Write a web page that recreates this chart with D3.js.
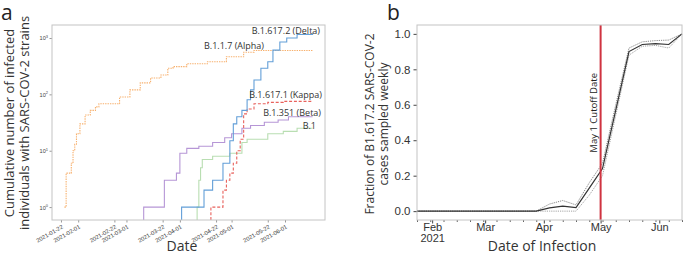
<!DOCTYPE html>
<html lang="en">
<head>
<meta charset="UTF-8" />
<title>SARS-CoV-2 strains</title>
<script src="https://cdn.jsdelivr.net/npm/d3@7"></script>
<style>
  body { margin: 0; background: #fff; }
  svg { font-family: 'Open Sans', sans-serif; }
</style>
</head>
<body>
<div id="chart"></div>
<script>
const parse = d3.timeParse('%Y-%m-%d')

// panel a: cumulative counts per strain, [date, count] (steps)
const alpha = [['2021-01-24', 1], ['2021-01-25', 4], ['2021-01-28', 6], ['2021-01-29', 10], ['2021-01-30', 13],
  ['2021-01-31', 20], ['2021-02-02', 30], ['2021-02-05', 43], ['2021-02-08', 52], ['2021-02-11', 60],
  ['2021-02-13', 68], ['2021-02-25', 90], ['2021-03-03', 120], ['2021-03-09', 160], ['2021-03-15', 195],
  ['2021-03-21', 220], ['2021-03-25', 290], ['2021-03-28', 310], ['2021-04-05', 350], ['2021-04-17', 380],
  ['2021-04-28', 465], ['2021-05-08', 560], ['2021-05-14', 600], ['2021-06-17', 600]]
const delta = [['2021-04-02', 0], ['2021-04-02', 1], ['2021-04-15', 2], ['2021-04-20', 3], ['2021-04-26', 6],
  ['2021-04-30', 15], ['2021-05-02', 30], ['2021-05-04', 40], ['2021-05-07', 52], ['2021-05-10', 80],
  ['2021-05-12', 120], ['2021-05-14', 180], ['2021-05-18', 290], ['2021-05-22', 380], ['2021-05-25', 610],
  ['2021-05-29', 850], ['2021-06-02', 1000], ['2021-06-08', 1150], ['2021-06-17', 1200]]
const kappa = [['2021-04-19', 0], ['2021-04-19', 1], ['2021-04-26', 2], ['2021-04-28', 3], ['2021-04-30', 4],
  ['2021-05-02', 6], ['2021-05-04', 10], ['2021-05-06', 16], ['2021-05-08', 45], ['2021-05-10', 55],
  ['2021-05-14', 68], ['2021-05-22', 72], ['2021-05-31', 75], ['2021-06-17', 75]]
const beta = [['2021-03-11', 0], ['2021-03-11', 1], ['2021-03-23', 3], ['2021-03-30', 4], ['2021-04-01', 9],
  ['2021-04-05', 11], ['2021-04-12', 12], ['2021-04-20', 14], ['2021-04-27', 17], ['2021-05-01', 20],
  ['2021-05-07', 25], ['2021-05-12', 28], ['2021-05-20', 32], ['2021-05-28', 35], ['2021-06-03', 40],
  ['2021-06-17', 40]]
const b1 = [['2021-04-11', 0], ['2021-04-11', 1], ['2021-04-12', 3], ['2021-04-13', 5], ['2021-04-14', 7],
  ['2021-04-20', 8], ['2021-04-30', 9], ['2021-05-07', 14], ['2021-05-10', 16], ['2021-05-22', 20],
  ['2021-05-31', 22], ['2021-06-08', 25], ['2021-06-17', 25]]
const strainNames = ['B.1.1.7 (Alpha)', 'B.1.617.2 (Delta)', 'B.1.617.1 (Kappa)', 'B.1.351 (Beta)', 'B.1']
const dateTicksA = ['2021-01-22', '2021-02-01', '2021-02-22', '2021-03-01', '2021-03-22',
  '2021-04-01', '2021-04-22', '2021-05-01', '2021-05-22', '2021-06-01']
const logTicks = [1, 10, 100, 1000]

// panel b: weekly fraction of B.1.617.2 with bounds
const weeks = ['2021-01-24', '2021-01-31', '2021-02-07', '2021-02-14', '2021-02-21', '2021-02-28',
  '2021-03-07', '2021-03-14', '2021-03-21', '2021-03-28', '2021-04-04', '2021-04-11', '2021-04-18',
  '2021-04-25', '2021-05-02', '2021-05-09', '2021-05-16', '2021-05-23', '2021-05-30', '2021-06-06', '2021-06-13']
const fracMid = [0, 0, 0, 0, 0, 0, 0, 0, 0, 0, 0.018, 0.028, 0.02, 0.13, 0.24, 0.57, 0.9, 0.94, 0.945, 0.94, 1.0]
const fracHigh = [0, 0, 0, 0, 0, 0, 0, 0, 0, 0, 0.04, 0.06, 0.035, 0.16, 0.27, 0.6, 0.92, 0.955, 0.962, 0.965, 1.0]
const fracLow = [0, 0, 0, 0, 0, 0, 0, 0, 0, 0, 0, 0, 0, 0.09, 0.2, 0.54, 0.88, 0.93, 0.935, 0.92, 1.0]
const monthTicks = ['2021-02-01', '2021-03-01', '2021-04-01', '2021-05-01', '2021-06-01']
const monthLabels = [['Feb', '2021'], ['Mar'], ['Apr'], ['May'], ['Jun']]
const yTicksB = [0, 0.2, 0.4, 0.6, 0.8, 1.0]
const cutoff = '2021-05-01'

const W = 685, H = 254
const svg = d3.select('#chart').append('svg').attr('width', W).attr('height', H)

// ---------- panel a ----------
const frameA = { l: 52, r: 325, t: 25, b: 220 }
const series = [
  { name: strainNames[0], data: alpha, color: '#f7b06d', dash: '1.4,1', lx: 264, ly: 49 },
  { name: strainNames[1], data: delta, color: '#639fd8', dash: null, lx: 320, ly: 34 },
  { name: strainNames[2], data: kappa, color: '#e8625d', dash: '3,1.8', lx: 322, ly: 98 },
  { name: strainNames[3], data: beta, color: '#b696d6', dash: null, lx: 321, ly: 116 },
  { name: strainNames[4], data: b1, color: '#b9deb2', dash: null, lx: 316, ly: 129 }
]
series.forEach(s => s.pts = s.data.map(([d, v]) => ({ date: parse(d), v })))

const allDates = series.flatMap(s => s.pts.map(p => p.date))
const [d0, d1] = d3.extent(allDates)
const pad = (d1 - d0) * 0.05
const xA = d3.scaleTime().domain([new Date(+d0 - pad), new Date(+d1 + pad)]).range([frameA.l, frameA.r])
const yA = d3.scaleLog().domain([0.59, 1700]).range([frameA.b, frameA.t]).clamp(true)

const gA = svg.append('g')

gA.append('g')
  .attr('transform', `translate(0,${frameA.b})`)
  .call(d3.axisBottom(xA).tickValues(dateTicksA.map(parse)).tickFormat(d3.timeFormat('%Y-%m-%d')).tickSize(2.5).tickSizeOuter(0))
  .call(g => g.select('.domain').remove())
  .call(g => g.selectAll('line').attr('stroke', '#999'))
  .call(g => g.selectAll('text')
    .attr('font-size', 5.8).attr('fill', '#333')
    .attr('text-anchor', 'end')
    .attr('dy', null).attr('y', 0)
    .attr('transform', 'translate(2,8) rotate(-30)'))

gA.append('g')
  .attr('transform', `translate(${frameA.l},0)`)
  .call(d3.axisLeft(yA).tickValues(logTicks).tickFormat('').tickSize(2.5).tickSizeOuter(0))
  .call(g => g.select('.domain').remove())
  .call(g => g.selectAll('line').attr('stroke', '#999'))
  .call(g => g.selectAll('.tick').append('text')
    .attr('x', -4).attr('dy', '0.35em')
    .attr('text-anchor', 'end').attr('fill', '#444').attr('font-size', 5.6)
    .each(function (d) {
      const t = d3.select(this)
      t.append('tspan').text('10')
      t.append('tspan').attr('dy', -2.5).attr('font-size', 4).text(Math.round(Math.log10(d)))
    }))

const lineA = d3.line().curve(d3.curveStepAfter).x(d => xA(d.date)).y(d => yA(Math.max(d.v, 0.01)))

gA.append('g').selectAll('path').data([series[4], series[3], series[0], series[2], series[1]]).join('path')
  .attr('d', s => lineA(s.pts))
  .attr('fill', 'none')
  .attr('stroke', s => s.color)
  .attr('stroke-width', 1.1)
  .attr('stroke-dasharray', s => s.dash)

gA.append('rect')
  .attr('x', frameA.l).attr('y', frameA.t)
  .attr('width', frameA.r - frameA.l).attr('height', frameA.b - frameA.t)
  .attr('fill', 'none').attr('stroke', '#c4c4c4').attr('stroke-width', 1)

gA.append('g').selectAll('text').data(series).join('text')
  .attr('x', s => s.lx).attr('y', s => s.ly)
  .attr('text-anchor', 'end')
  .attr('font-size', 9).attr('fill', '#333')
  .text(s => s.name)

gA.append('text').attr('x', 182).attr('y', 251).attr('text-anchor', 'middle')
  .attr('font-size', 14).attr('fill', '#333').text('Date')

gA.append('text')
  .attr('transform', 'translate(14,123) rotate(-90)')
  .attr('text-anchor', 'middle').attr('font-size', 13).attr('fill', '#333')
  .call(t => {
    t.append('tspan').attr('x', 0).attr('y', 0).text('Cumulative number of infected')
    t.append('tspan').attr('x', 0).attr('y', 15).text('individuals with SARS-COV-2 strains')
  })

gA.append('text').attr('x', 1).attr('y', 20).attr('font-size', 21).attr('fill', '#222').text('a')

// ---------- panel b ----------
const frameB = { l: 417, r: 682, t: 25, b: 220 }
const weekDates = weeks.map(parse)
const xB = d3.scaleTime().domain(d3.extent(weekDates)).range([frameB.l, frameB.r])
const yB = d3.scaleLinear().domain([-0.05, 1.05]).range([frameB.b, frameB.t])

const gB = svg.append('g')

// minor weekly ticks
gB.append('g')
  .attr('transform', `translate(0,${frameB.b})`)
  .call(d3.axisBottom(xB).tickValues(weekDates).tickFormat('').tickSize(2).tickSizeOuter(0))
  .call(g => g.select('.domain').remove())
  .call(g => g.selectAll('line').attr('stroke', '#666'))

gB.append('g')
  .attr('transform', `translate(0,${frameB.b})`)
  .call(d3.axisBottom(xB).tickValues(monthTicks.map(parse)).tickFormat('').tickSize(3.5).tickSizeOuter(0))
  .call(g => g.select('.domain').remove())
  .call(g => g.selectAll('line').attr('stroke', '#444'))
  .call(g => g.selectAll('.tick').append('text')
    .attr('y', 3).attr('text-anchor', 'middle').attr('fill', '#333').attr('font-size', 11)
    .each(function (d, i) {
      const t = d3.select(this)
      monthLabels[i].forEach((s, k) => t.append('tspan').attr('x', 0).attr('dy', k ? '1.0em' : '0.75em').text(s))
    }))

gB.append('g')
  .attr('transform', `translate(${frameB.l},0)`)
  .call(d3.axisLeft(yB).tickValues(yTicksB).tickFormat(d3.format('.1f')).tickSize(3.5).tickSizeOuter(0))
  .call(g => g.select('.domain').remove())
  .call(g => g.selectAll('line').attr('stroke', '#444'))
  .call(g => g.selectAll('text').attr('font-size', 11.5).attr('fill', '#333'))

const lineB = vals => d3.line().x((d, i) => xB(weekDates[i])).y(d => yB(d))(vals)

gB.append('path').attr('d', lineB(fracHigh)).attr('fill', 'none')
  .attr('stroke', '#777').attr('stroke-width', 0.9).attr('stroke-dasharray', '1.2,1')
gB.append('path').attr('d', lineB(fracLow)).attr('fill', 'none')
  .attr('stroke', '#999').attr('stroke-width', 0.9).attr('stroke-dasharray', '1.2,1')
gB.append('path').attr('d', lineB(fracMid)).attr('fill', 'none')
  .attr('stroke', '#333').attr('stroke-width', 1.2)

gB.append('line')
  .attr('x1', xB(parse(cutoff))).attr('x2', xB(parse(cutoff)))
  .attr('y1', frameB.t).attr('y2', frameB.b)
  .attr('stroke', '#cf3340').attr('stroke-width', 2)

gB.append('text')
  .attr('transform', `translate(${xB(parse(cutoff)) - 4},73) rotate(-90)`)
  .attr('text-anchor', 'end').attr('font-size', 9.5).attr('fill', '#222')
  .text('May 1 Cutoff Date')

gB.append('rect')
  .attr('x', frameB.l).attr('y', frameB.t)
  .attr('width', frameB.r - frameB.l).attr('height', frameB.b - frameB.t)
  .attr('fill', 'none').attr('stroke', '#c4c4c4').attr('stroke-width', 1)

gB.append('text').attr('x', 542).attr('y', 251).attr('text-anchor', 'middle')
  .attr('font-size', 14).attr('fill', '#333').text('Date of Infection')

gB.append('text')
  .attr('transform', 'translate(374,124) rotate(-90)')
  .attr('text-anchor', 'middle').attr('font-size', 12).attr('fill', '#333')
  .call(t => {
    t.append('tspan').attr('x', 0).attr('y', 0).text('Fraction of B1.617.2 SARS-COV-2')
    t.append('tspan').attr('x', 0).attr('y', 13.5).text('cases sampled weekly')
  })

gB.append('text').attr('x', 387).attr('y', 20).attr('font-size', 21).attr('fill', '#222').text('b')
</script>
</body>
</html>
